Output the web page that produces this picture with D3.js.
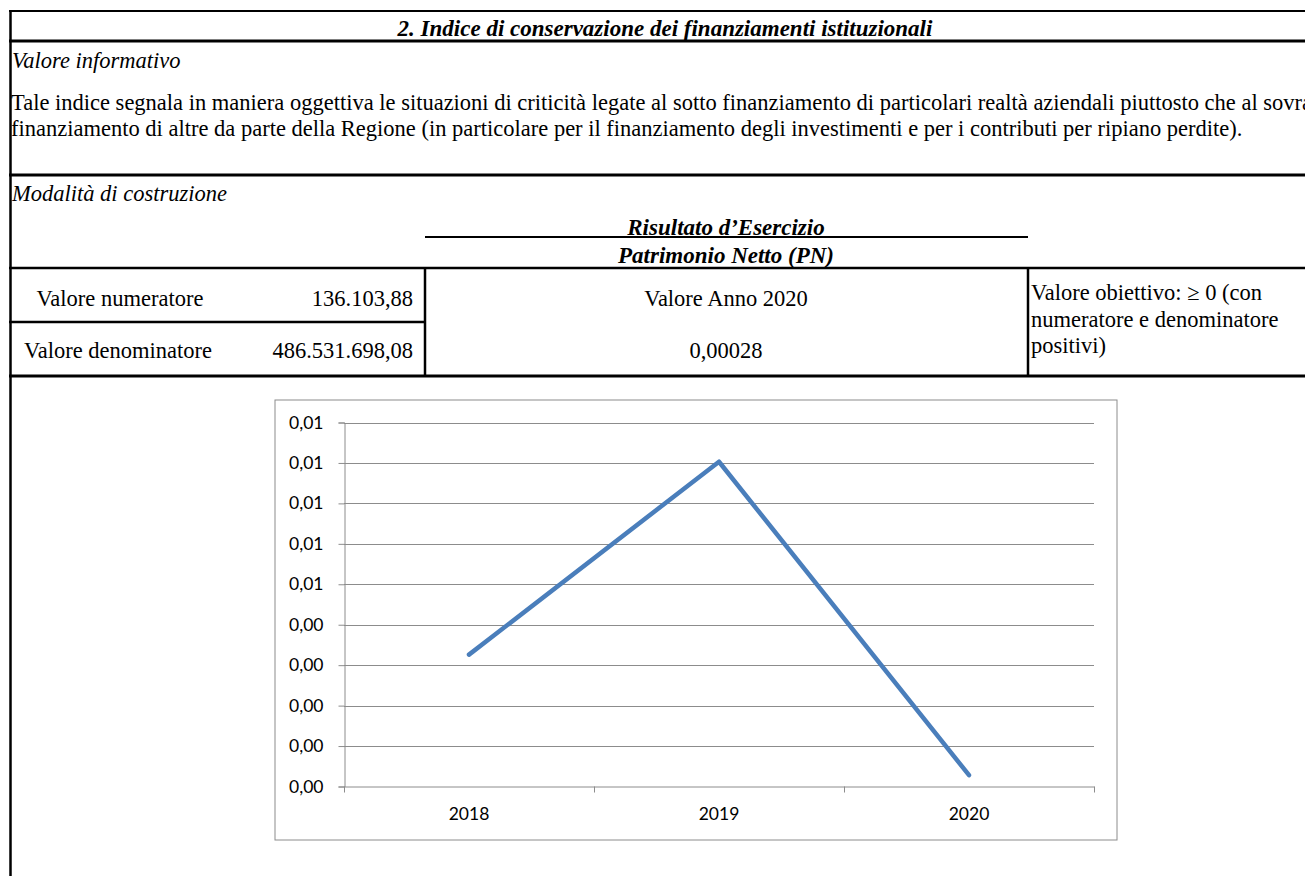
<!DOCTYPE html>
<html lang="it">
<head>
<meta charset="utf-8">
<script src="https://cdn.jsdelivr.net/npm/d3@7/dist/d3.min.js"></script>
<style>
  body { margin: 0; background: #fff; }
  svg { display: block; }
  .serif { font-family: "Liberation Serif", "Times New Roman", serif; font-size: 22.5px; fill: #000; }
  .chart text { font-family: Lato, "Open Sans", sans-serif; font-size: 17.5px; fill: #000; }
</style>
</head>
<body>
<script>
// chart data
var years = ["2018", "2019", "2020"];
var indexValues = [0.00326, 0.00803, 0.00028];
var yTicks = [0, 0.001, 0.002, 0.003, 0.004, 0.005, 0.006, 0.007, 0.008, 0.009];

// table texts
var titleText = "2. Indice di conservazione dei finanziamenti istituzionali";
var paragraphLines = [
  "Tale indice segnala in maniera oggettiva le situazioni di criticità legate al sotto finanziamento di particolari realtà aziendali piuttosto che al sovra",
  "finanziamento di altre da parte della Regione (in particolare per il finanziamento degli investimenti e per i contributi per ripiano perdite)."
];
var numeratorValue = "136.103,88";
var denominatorValue = "486.531.698,08";
var yearValue = "0,00028";
var targetLines = ["Valore obiettivo: \u2265 0 (con", "numeratore e denominatore", "positivi)"];

var W = 1305, H = 876;
var svg = d3.select("body").append("svg").attr("width", W).attr("height", H);

// ---- table frame
var lines = [
  [9, 11, W, 11, 2],
  [9, 41, W, 41, 3],
  [9, 175, W, 175, 3],
  [425, 237, 1028, 237, 2],
  [9, 268, W, 268, 2.5],
  [9, 322, 425, 322, 2.5],
  [9, 376, W, 376, 3],
  [10.5, 10, 10.5, H, 2.5],
  [425, 268, 425, 377, 2.5],
  [1028, 268, 1028, 377, 2.5]
];
svg.selectAll("line.frame").data(lines).enter().append("line")
  .attr("class", "frame")
  .attr("x1", d => d[0]).attr("y1", d => d[1])
  .attr("x2", d => d[2]).attr("y2", d => d[3])
  .attr("stroke", "#000").attr("stroke-width", d => d[4]);

function txt(x, y, s, anchor, style) {
  var t = svg.append("text").attr("class", "serif")
    .attr("x", x).attr("y", y).attr("text-anchor", anchor || "start").text(s);
  if (style === "i") t.style("font-style", "italic");
  if (style === "bi") t.style("font-style", "italic").style("font-weight", "bold").style("font-size", "23px");
  return t;
}

txt(665, 36, titleText, "middle", "bi");
txt(12, 68, "Valore informativo", "start", "i");
// the sheet row is wider than the page, so the first line runs past the right edge as in the original
paragraphLines.forEach(function(l, i) { txt(11, 110 + i * 26, l); });
txt(12, 201, "Modalità di costruzione", "start", "i");
txt(726, 235, "Risultato d\u2019Esercizio", "middle", "bi");
txt(726, 263, "Patrimonio Netto (PN)", "middle", "bi");

txt(120, 306, "Valore numeratore", "middle");
txt(413, 306, numeratorValue, "end");
txt(118, 358, "Valore denominatore", "middle");
txt(413, 358, denominatorValue, "end");
txt(726, 306, "Valore Anno 2020", "middle");
txt(726, 358, yearValue, "middle");
targetLines.forEach(function(l, i) { txt(1031, 300 + i * 26.5, l); });

// ---- chart
var chart = svg.append("g").attr("class", "chart");
chart.append("rect")
  .attr("x", 275).attr("y", 400).attr("width", 842).attr("height", 440)
  .attr("fill", "#fff").attr("stroke", "#8c8c8c").attr("stroke-width", 1);

var x = d3.scaleBand().domain(years).range([344, 1094]).padding(0);
var y = d3.scaleLinear().domain([0, 0.009]).range([786.5, 422.5]);

var itLocale = d3.formatLocale({decimal: ",", thousands: ".", grouping: [3], currency: ["€", ""]});
var fmt = itLocale.format(".2f");

// gridlines
chart.selectAll("line.grid").data(yTicks.slice(1)).enter().append("line")
  .attr("class", "grid")
  .attr("x1", 344).attr("x2", 1094)
  .attr("y1", d => Math.round(y(d)) + 0.5).attr("y2", d => Math.round(y(d)) + 0.5)
  .attr("stroke", "#8c8c8c").attr("stroke-width", 1);

// y axis
var yAxis = chart.append("g")
  .attr("transform", "translate(344.5,0)")
  .call(d3.axisLeft(y).tickValues(yTicks).tickFormat(fmt).tickSize(6).tickPadding(15));
yAxis.selectAll("line, path").attr("stroke", "#8c8c8c");
yAxis.selectAll("text").attr("font-family", null).attr("font-size", null);

// x axis labels at band centres
var xAxis = chart.append("g")
  .attr("transform", "translate(0," + y(0) + ")")
  .call(d3.axisBottom(x).tickSize(0).tickPadding(21));
xAxis.select("path").attr("stroke", "#8c8c8c");
xAxis.selectAll("text").attr("font-family", null).attr("font-size", null);

// boundary ticks like a category axis
var bounds = years.map(d => x(d)).concat([x(years[years.length - 1]) + x.bandwidth()]);
chart.selectAll("line.xt").data(bounds).enter().append("line")
  .attr("class", "xt")
  .attr("x1", d => Math.round(d) + 0.5).attr("x2", d => Math.round(d) + 0.5)
  .attr("y1", y(0)).attr("y2", y(0) + 6)
  .attr("stroke", "#8c8c8c");

// series line
var line = d3.line()
  .x((d, i) => x(years[i]) + x.bandwidth() / 2)
  .y(d => y(d));
chart.append("path")
  .datum(indexValues)
  .attr("d", line)
  .attr("fill", "none")
  .attr("stroke", "#4a7ebb")
  .attr("stroke-width", 4.5)
  .attr("stroke-linecap", "round")
  .attr("stroke-linejoin", "round");
</script>
</body>
</html>
